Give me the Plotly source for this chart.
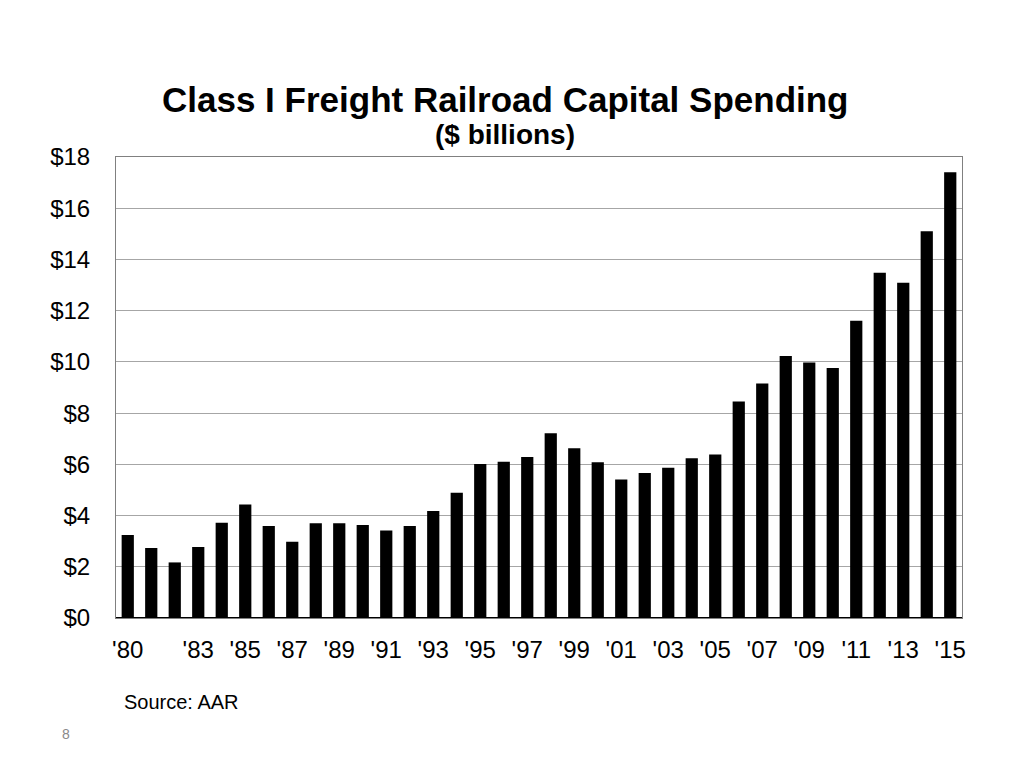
import plotly.graph_objects as go

years = list(range(1980, 2016))
spending = [3.24, 2.73, 2.17, 2.77, 3.72, 4.43, 3.59, 2.98, 3.70, 3.70,
            3.63, 3.42, 3.59, 4.18, 4.89, 6.01, 6.10, 6.29, 7.21, 6.63,
            6.08, 5.41, 5.66, 5.87, 6.24, 6.38, 8.45, 9.16, 10.23, 9.98,
            9.76, 11.61, 13.48, 13.09, 15.10, 17.40]
tick_years = [1980, 1983, 1985, 1987, 1989, 1991, 1993, 1995, 1997, 1999,
              2001, 2003, 2005, 2007, 2009, 2011, 2013, 2015]
tick_labels = ["'80", "'83", "'85", "'87", "'89", "'91", "'93", "'95", "'97", "'99",
               "'01", "'03", "'05", "'07", "'09", "'11", "'13", "'15"]
y_ticks = list(range(0, 19, 2))
y_labels = [f"${v}" for v in y_ticks]

font = "Liberation Sans, Arial, sans-serif"

# page body has an 8px margin; figure is sized so the plot area lands where the reference has it
OFF = 8
L, T, R, B = 116 - OFF, 157 - OFF, 62, 150
W, H = 1024 - OFF, 768 - OFF

fig = go.Figure(go.Bar(x=years, y=spending, marker=dict(color="black", line=dict(width=0)),
                       width=0.52))

notes = [
    ("<b>Class I Freight Railroad Capital Spending</b>", 505, 100, 35, "black", "center"),
    ("<b>($ billions)</b>", 505, 135, 28, "black", "center"),
    ("Source: AAR", 122, 702, 20, "black", "left"),
    ("8", 66, 734, 14, "#8a8a8a", "center"),
]
pw, ph = W - L - R, H - T - B
anns = []
for text, sx, sy, size, color, xa in notes:
    anns.append(dict(text=text, x=(sx - OFF - L) / pw, y=1 - (sy - OFF - T) / ph,
                     xref="paper", yref="paper", showarrow=False, xanchor=xa,
                     yanchor="middle", font=dict(size=size, color=color)))

fig.update_layout(
    width=W, height=H,
    paper_bgcolor="white", plot_bgcolor="white",
    margin=dict(l=L, r=R, t=T, b=B),
    showlegend=False,
    font=dict(family=font, color="black"),
    annotations=anns,
)

fig.update_xaxes(
    range=[1979.5, 2015.5], tickvals=tick_years, ticktext=tick_labels,
    tickfont=dict(size=24), showgrid=False, showline=True, linecolor="#808080",
    linewidth=1, mirror=True, ticks="", ticklabelstandoff=10,
)
fig.update_yaxes(
    range=[0, 18], tickvals=y_ticks, ticktext=y_labels, tickfont=dict(size=24),
    showgrid=True, gridcolor="#a6a6a6", gridwidth=1, showline=True,
    linecolor="#808080", linewidth=1, mirror=True, ticks="",
    ticklabelstandoff=20, zeroline=True, zerolinecolor="black", zerolinewidth=2,
)

fig.write_html("out.html")
